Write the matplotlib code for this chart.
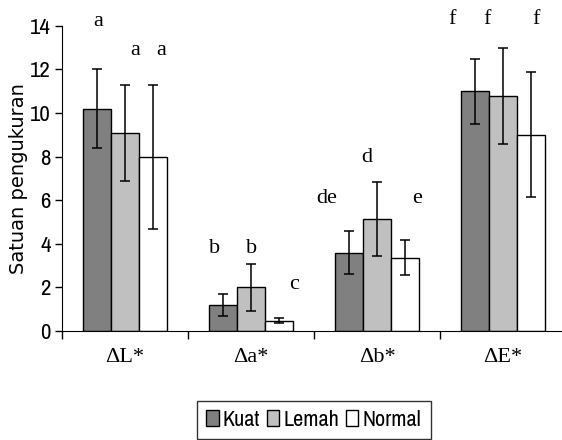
import numpy as np
import matplotlib
matplotlib.use('Agg')
import matplotlib.pyplot as plt

# data
kategori = ['\u0394L*', '\u0394a*', '\u0394b*', '\u0394E*']
seri = ['Kuat', 'Lemah', 'Normal']
nilai = {
    'Kuat':   [10.2, 1.2, 3.6, 11.0],
    'Lemah':  [9.1, 2.0, 5.15, 10.77],
    'Normal': [8.0, 0.47, 3.37, 9.0],
}
galat = {
    'Kuat':   [1.8, 0.52, 1.0, 1.5],
    'Lemah':  [2.2, 1.07, 1.7, 2.2],
    'Normal': [3.3, 0.12, 0.8, 2.87],
}
warna = {'Kuat': '#808080', 'Lemah': '#c0c0c0', 'Normal': '#ffffff'}

# huruf notasi uji lanjut (x dalam satuan kategori, y baseline)
huruf = ['a', 'a', 'a', 'b', 'b', 'c', 'de', 'd', 'e', 'f', 'f', 'f']
huruf_x = [-0.214, 0.079, 0.286, 0.714, 1.006, 1.341, 1.60, 1.918, 2.315, 2.595, 2.873, 3.262]
huruf_y = [14.0, 12.66, 12.66, 3.59, 3.59, 1.93, 5.89, 7.74, 5.89, 14.08, 14.08, 14.08]

narrow = ['Archivo Narrow', 'Liberation Sans', 'DejaVu Sans']
serif = ['Liberation Serif', 'DejaVu Serif']

fig = plt.figure(figsize=(5.62, 4.4), dpi=100)
ax = fig.add_axes([62/562, 1-331/440, 504/562, (331-25.8)/440])

x = np.arange(len(kategori))
lebar = 0.222
for i, s in enumerate(seri):
    pos = x + (i-1)*lebar
    ax.bar(pos, nilai[s], lebar, color=warna[s], edgecolor='black', linewidth=1.0, label=s, zorder=2)
    ax.errorbar(pos, nilai[s], yerr=galat[s], fmt='none', ecolor='black', elinewidth=1.1,
                capsize=3.6, capthick=1.1, zorder=3)

for t, hx, hy in zip(huruf, huruf_x, huruf_y):
    ax.text(hx, hy, t, ha='center', va='baseline', fontsize=16, family=serif, clip_on=False)

ax.set_xlim(-0.5, 3.5)
ax.set_ylim(0, 14)
ax.set_yticks(np.arange(0, 15, 2))
ax.set_yticklabels([str(v) for v in range(0, 15, 2)], family=narrow, fontsize=16.5)
ax.set_xticks(x)
ax.set_xticklabels(kategori, family=serif, fontsize=16)
ax.set_xticks([-0.5, 0.5, 1.5, 2.5], minor=True)
ax.tick_params(axis='x', which='major', length=0, pad=12)
ax.tick_params(axis='x', which='minor', length=6, width=1, direction='out')
ax.tick_params(axis='y', length=5, width=1, direction='out', pad=3)
ax.spines['top'].set_visible(False)
ax.spines['right'].set_visible(False)
ax.set_ylabel('Satuan pengukuran', family='DejaVu Sans', fontsize=14)
ax.yaxis.set_label_coords((28-62)/504, 0.5)

leg = fig.legend(loc='center', bbox_to_anchor=(314/562, 1-420/440), ncol=3, frameon=True,
                 fancybox=False, edgecolor='black', handlelength=0.55, handleheight=0.7,
                 handletextpad=0.2, columnspacing=0.3, borderpad=0.4,
                 prop={'family': narrow, 'size': 16})
leg.get_frame().set_linewidth(1.0)

fig.savefig('out.png', dpi=100)
